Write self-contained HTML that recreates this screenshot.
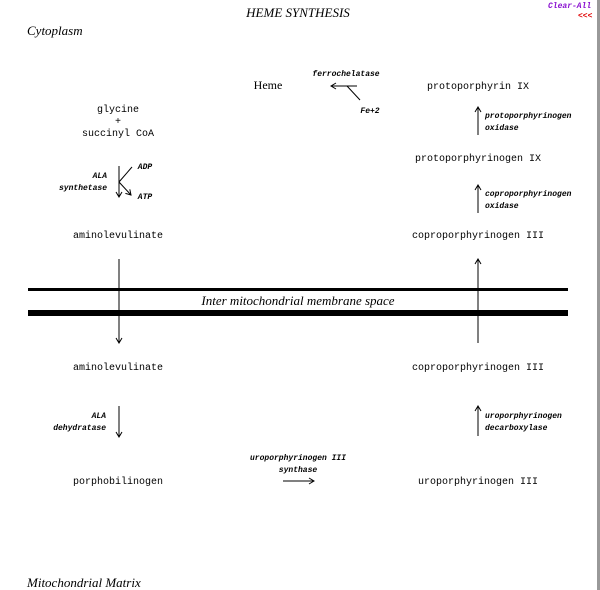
<!DOCTYPE html>
<html><head><meta charset="utf-8"><style>
html,body{margin:0;padding:0;background:#fff;}
svg{display:block}
.m{font-family:"Liberation Mono",monospace;font-size:10px;fill:#000}
.i{font-family:"Liberation Mono",monospace;font-size:8px;font-style:italic;font-weight:bold;fill:#000}
.s{font-family:"Liberation Serif",serif;font-style:italic;fill:#000}
</style></head><body>
<svg width="600" height="590" viewBox="0 0 600 590" xmlns="http://www.w3.org/2000/svg">
<defs><marker id="a" markerWidth="8" markerHeight="8" refX="6" refY="4" orient="auto" markerUnits="userSpaceOnUse"><path d="M1,1 L6,4 L1,7" fill="none" stroke="#000" stroke-width="1"/></marker></defs>
<rect x="597" y="0" width="3" height="590" fill="#999"/>
<text x="298" y="17" class="s" font-size="13" text-anchor="middle">HEME SYNTHESIS</text>
<text x="548" y="8" class="i" style="fill:#8a10d0">Clear-All</text>
<text x="578" y="18" class="i" style="fill:#e00000">&lt;&lt;&lt;</text>
<text x="27" y="35" class="s" font-size="13">Cytoplasm</text>
<text x="27" y="587" class="s" font-size="13">Mitochondrial Matrix</text>

<text x="268" y="89" font-family="Liberation Serif,serif" font-size="12" text-anchor="middle">Heme</text>
<text x="346" y="76" class="i" text-anchor="middle">ferrochelatase</text>
<line x1="357" y1="86" x2="331" y2="86" stroke="#000" marker-end="url(#a)"/>
<line x1="347" y1="86" x2="360" y2="100" stroke="#000"/>
<text x="370" y="113" class="i" text-anchor="middle">Fe+2</text>

<text x="478" y="89" class="m" text-anchor="middle">protoporphyrin IX</text>
<line x1="478" y1="135" x2="478" y2="107" stroke="#000" marker-end="url(#a)"/>
<text x="485" y="118" class="i">protoporphyrinogen</text>
<text x="485" y="130" class="i">oxidase</text>
<text x="478" y="161" class="m" text-anchor="middle">protoporphyrinogen IX</text>
<line x1="478" y1="213" x2="478" y2="185" stroke="#000" marker-end="url(#a)"/>
<text x="485" y="196" class="i">coproporphyrinogen</text>
<text x="485" y="208" class="i">oxidase</text>
<text x="478" y="238" class="m" text-anchor="middle">coproporphyrinogen III</text>

<text x="118" y="112" class="m" text-anchor="middle">glycine</text>
<text x="118" y="124" class="m" text-anchor="middle">+</text>
<text x="118" y="136" class="m" text-anchor="middle">succinyl CoA</text>
<line x1="119" y1="166" x2="119" y2="197" stroke="#000" marker-end="url(#a)"/>
<line x1="119" y1="182" x2="132" y2="167" stroke="#000"/>
<line x1="119" y1="182" x2="131" y2="195" stroke="#000" marker-end="url(#a)"/>
<text x="145" y="169" class="i" text-anchor="middle">ADP</text>
<text x="145" y="199" class="i" text-anchor="middle">ATP</text>
<text x="107" y="178" class="i" text-anchor="end">ALA</text>
<text x="107" y="190" class="i" text-anchor="end">synthetase</text>
<text x="118" y="238" class="m" text-anchor="middle">aminolevulinate</text>

<rect x="28" y="288" width="540" height="3" fill="#000"/>
<rect x="28" y="310" width="540" height="6" fill="#000"/>
<text x="298" y="305" class="s" font-size="13" text-anchor="middle">Inter mitochondrial membrane space</text>
<line x1="119" y1="259" x2="119" y2="343" stroke="#000" marker-end="url(#a)"/>
<line x1="478" y1="343" x2="478" y2="259" stroke="#000" marker-end="url(#a)"/>

<text x="118" y="370" class="m" text-anchor="middle">aminolevulinate</text>
<text x="478" y="370" class="m" text-anchor="middle">coproporphyrinogen III</text>
<line x1="119" y1="406" x2="119" y2="437" stroke="#000" marker-end="url(#a)"/>
<text x="106" y="418" class="i" text-anchor="end">ALA</text>
<text x="106" y="430" class="i" text-anchor="end">dehydratase</text>
<line x1="478" y1="436" x2="478" y2="406" stroke="#000" marker-end="url(#a)"/>
<text x="485" y="418" class="i">uroporphyrinogen</text>
<text x="485" y="430" class="i">decarboxylase</text>
<text x="118" y="484" class="m" text-anchor="middle">porphobilinogen</text>
<text x="298" y="460" class="i" text-anchor="middle">uroporphyrinogen III</text>
<text x="298" y="472" class="i" text-anchor="middle">synthase</text>
<line x1="283" y1="481" x2="314" y2="481" stroke="#000" marker-end="url(#a)"/>
<text x="478" y="484" class="m" text-anchor="middle">uroporphyrinogen III</text>
</svg>
</body></html>
